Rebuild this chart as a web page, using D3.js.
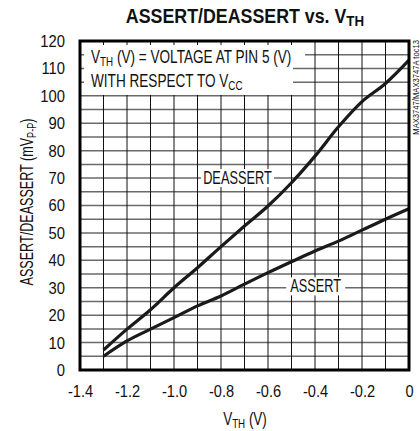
<!DOCTYPE html>
<html>
<head>
<meta charset="utf-8" />
<title>ASSERT/DEASSERT vs. VTH</title>
<script src="https://d3js.org/d3.v7.min.js"></script>
<style>
  body { margin: 0; background: #fff; }
  text { font-family: "Liberation Sans Narrow", "Liberation Sans", Arial, sans-serif; fill: #111; }
</style>
</head>
<body>
<svg id="chart" width="420" height="431"></svg>
<script>
// data
var vth = [-1.3, -1.2, -1.1, -1.0, -0.9, -0.8, -0.7, -0.6, -0.5, -0.4, -0.3, -0.2, -0.1, 0];
var deassert = [7.3, 14.9, 22, 30, 37.3, 45, 52.5, 59.8, 68.3, 78, 88.7, 97.9, 104.5, 113];
var assert = [5.0, 10.6, 14.9, 19.1, 23.4, 27, 31.3, 35.5, 39.5, 43.4, 47, 51, 55, 58.8];
var xTicks = [-1.4, -1.2, -1.0, -0.8, -0.6, -0.4, -0.2, 0];
var yTicks = [0, 10, 20, 30, 40, 50, 60, 70, 80, 90, 100, 110, 120];

var pl = 80, pr = 409, pt = 41, pb = 370;
var svg = d3.select("#chart");

var x = d3.scaleLinear().domain([-1.4, 0]).range([pl, pr]);
var y = d3.scaleLinear().domain([0, 120]).range([pb, pt]);

// text placed at (tx,ty) but narrowed, the original uses a condensed face
function ctext(tx, ty, size, sx, anchor) {
  return svg.append("g").attr("transform", "translate(" + tx + "," + ty + ") scale(" + sx + ",1)")
    .append("text").attr("font-size", size).attr("text-anchor", anchor || "start");
}

// grid
var g = svg.append("g");
g.selectAll("line.h").data(d3.range(5, 120, 5)).enter().append("line")
  .attr("x1", pl).attr("x2", pr)
  .attr("y1", function(d) { return y(d); }).attr("y2", function(d) { return y(d); })
  .attr("stroke", "#6a6a6a").attr("stroke-width", 1.5);
g.selectAll("line.v").data(d3.range(1, 14)).enter().append("line")
  .attr("x1", function(d) { return x(-1.4 + d * 0.1); }).attr("x2", function(d) { return x(-1.4 + d * 0.1); })
  .attr("y1", pt).attr("y2", pb)
  .attr("stroke", "#111").attr("stroke-width", 1);

// white patches under the notes (grid shows as little stubs at the frame)
svg.append("rect").attr("x", pl + 4).attr("y", pt + 4).attr("width", 209).attr("height", 50).attr("fill", "#fff");
svg.append("rect").attr("x", pl + 4).attr("y", pt + 4).attr("width", 221).attr("height", 22).attr("fill", "#fff");

// curves
var line = d3.line()
  .x(function(d, i) { return x(vth[i]); })
  .y(function(d) { return y(d); })
  .curve(d3.curveMonotoneX);
[deassert, assert].forEach(function(s) {
  svg.append("path").attr("d", line(s)).attr("fill", "none")
    .attr("stroke", "#1a1a1a").attr("stroke-width", 3.2);
});

// curve labels with white boxes
function label(txt, cx, cy, w) {
  svg.append("rect").attr("x", cx - w / 2).attr("y", cy - 9).attr("width", w).attr("height", 18).attr("fill", "#fff");
  ctext(cx, cy + 6, 18, 0.71, "middle").text(txt);
}
label("DEASSERT", x(-0.73), y(70), 73);
label("ASSERT", x(-0.397), y(30.5), 59);

// frame
svg.append("rect").attr("x", pl).attr("y", pt).attr("width", pr - pl).attr("height", pb - pt)
  .attr("fill", "none").attr("stroke", "#000").attr("stroke-width", 3);

// notes
var n1 = ctext(pl + 11, 63, 18, 0.755);
n1.append("tspan").text("V");
n1.append("tspan").attr("font-size", 13).attr("dy", 3).text("TH");
n1.append("tspan").attr("dy", -3).text(" (V) = VOLTAGE AT PIN 5 (V)");
var n2 = ctext(pl + 11, 87, 18, 0.755);
n2.append("tspan").text("WITH RESPECT TO V");
n2.append("tspan").attr("font-size", 13).attr("dy", 3).text("CC");

// axes
var xAxis = svg.append("g").attr("transform", "translate(0," + (pb + 15) + ")")
  .call(d3.axisBottom(x).tickValues(xTicks).tickSize(0).tickPadding(0)
    .tickFormat(function(d) { return d === 0 ? "0" : d3.format(".1f")(d).replace("−", "-"); }));
xAxis.select(".domain").remove();
xAxis.selectAll("text").attr("font-size", 17).attr("fill", "#111").attr("font-family", null)
  .attr("transform", "scale(0.86,1)");

var yAxis = svg.append("g").attr("transform", "translate(" + (pl - 15) + ",0)")
  .call(d3.axisLeft(y).tickValues(yTicks).tickSize(0).tickPadding(0));
yAxis.select(".domain").remove();
yAxis.selectAll("text").attr("font-size", 17).attr("fill", "#111").attr("font-family", null)
  .attr("transform", "scale(0.87,1)");

// titles
var t = ctext(245, 23, 20, 0.89, "middle").attr("font-weight", "bold");
t.append("tspan").text("ASSERT/DEASSERT vs. V");
t.append("tspan").attr("font-size", 15).attr("dy", 3).text("TH");

var xt = ctext(245, 425, 18, 0.75, "middle");
xt.append("tspan").text("V");
xt.append("tspan").attr("font-size", 13).attr("dy", 3).text("TH");
xt.append("tspan").attr("dy", -3).text(" (V)");

var yt = svg.append("g").attr("transform", "translate(33,202) rotate(-90) scale(0.7,1)")
  .append("text").attr("text-anchor", "middle").attr("font-size", 18);
yt.append("tspan").text("ASSERT/DEASSERT (mV");
yt.append("tspan").attr("font-size", 13).attr("dy", 3).text("P-P");
yt.append("tspan").attr("dy", -3).text(")");

svg.append("g").attr("transform", "translate(419,40) rotate(-90) scale(0.85,1)")
  .append("text").attr("text-anchor", "end")
  .attr("font-size", 9).attr("fill", "#333").text("MAX3747/MAX3747A toc13");
</script>
</body>
</html>
